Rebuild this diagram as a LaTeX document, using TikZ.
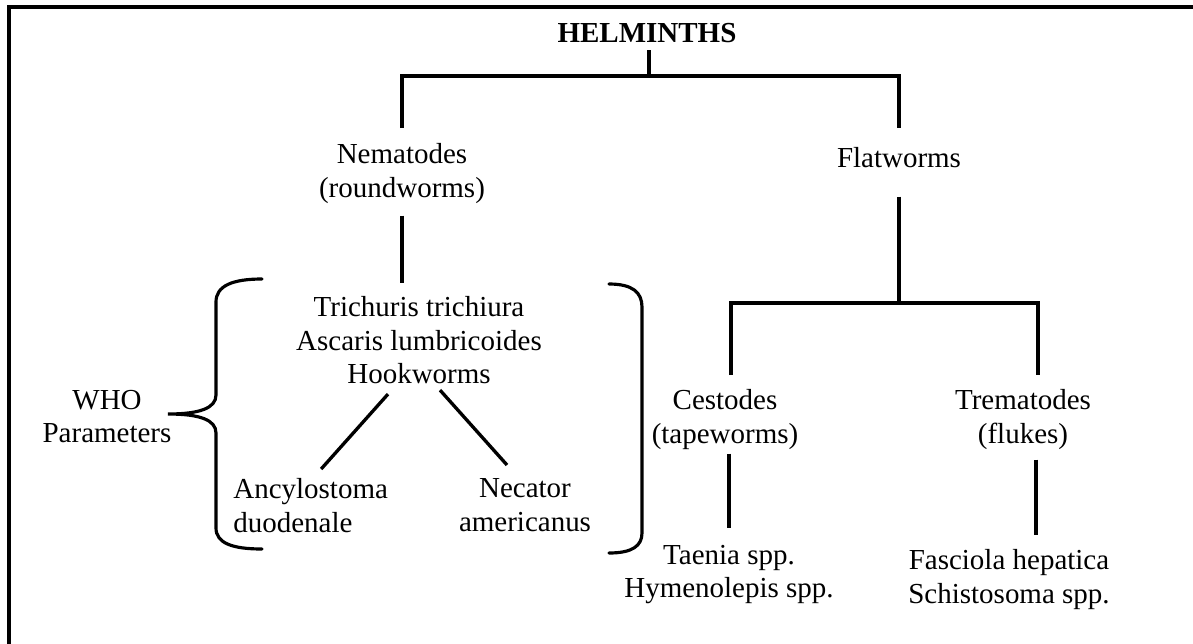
\documentclass[tikz,border=0pt]{standalone}
\usepackage{fontspec}
\setmainfont{Liberation Serif}
\usetikzlibrary{calc}
\tikzset{
  taxon/.style={
    inner sep=0pt, anchor=north, align=center,
    font=\fontsize{16.5}{19}\selectfont,
    execute at begin node=\strut, execute at end node=\strut
  },
  title-text/.style={
    inner sep=0pt, anchor=north, font=\fontsize{16.5}{19}\selectfont\bfseries,
    execute at begin node={\rule{0pt}{13.3pt}}
  },
  branch/.style={line width=1.9pt},
  brace-line/.style={line width=1.8pt, line cap=round},
  frame/.style={line width=1.8pt}
}

\begin{document}
\begin{tikzpicture}[x=0.02cm, y=-0.02cm]
  \useasboundingbox (0,0) rectangle (1193,643);
  \clip (0,0) rectangle (1193,643);
  % outer frame, cut off at the right and bottom
  \draw[frame] (9,700) |- (1250,7);

  \node[title-text] (helminths)   at (647,19)    {HELMINTHS};
  \node[taxon]      (nematodes)   at (402,143.5) {Nematodes\\(roundworms)};
  \node[taxon]      (flatworms)   at (899,143.5) {Flatworms};
  \node[taxon]      (worms)       at (419,296.5) {Trichuris trichiura\\Ascaris lumbricoides\\Hookworms};
  \node[taxon, anchor=north west, align=left]
                    (ancylostoma) at (233,478.5) {Ancylostoma\\duodenale};
  \node[taxon]      (necator)     at (525,478.5) {Necator\\americanus};
  \node[taxon]      (who)         at (107,389.5) {WHO\\Parameters};
  \node[taxon]      (cestodes)    at (725,389.5) {Cestodes\\(tapeworms)};
  \node[taxon]      (trematodes)  at (1023,389.5) {Trematodes\\(flukes)};
  \node[taxon]      (taenia)      at (729,544.5) {Taenia spp.\\Hymenolepis spp.};
  \node[taxon]      (fasciola)    at (1009,549.5) {Fasciola hepatica\\Schistosoma spp.};

  \coordinate (top-split) at (649,76);
  \coordinate (low-split) at (899,303);

  % tree
  \draw[branch, shorten <=4pt] (helminths.south -| top-split) -- (top-split);
  \draw[branch, shorten <=8.8pt, shorten >=8.8pt] (nematodes.north) |- (top-split) -| (flatworms.north);
  \draw[branch, shorten <=4.5pt, shorten >=7.7pt] (nematodes.south) -- (nematodes.south |- worms.north);
  \draw[branch] ($(worms.south)+(-31,0)$) -- ($(ancylostoma.north)+(10.5,-9.5)$);
  \draw[branch] ($(worms.south)+(21,-4)$) -- ($(necator.north)+(-18,-13.5)$);
  \draw[branch, shorten <=10.8pt] (flatworms.south) -- (low-split);
  \draw[branch, shorten <=8.2pt, shorten >=8.2pt]
    ([xshift=3.4pt]cestodes.north) |- (low-split) -| ([xshift=8.5pt]trematodes.north);
  \draw[branch, shorten >=9.4pt] (taenia.north |- cestodes.south) -- (taenia.north);
  \draw[branch, shorten <=3.4pt, shorten >=8.2pt]
    ([xshift=7.4pt]trematodes.south) -- ([xshift=7.4pt]trematodes.south |- fasciola.north);

  % braces round the WHO group
  \draw[brace-line] (262,279) .. controls (232,279) and (216,286) .. (216,302)
    -- (216,395) .. controls (216,408) and (200,414) .. (168,414)
    .. controls (200,414) and (216,420) .. (216,433)
    -- (216,528) .. controls (216,543) and (232,549) .. (262,549);
  \draw[brace-line] (609,284) .. controls (632,284) and (642,292) .. (642,307)
    -- (642,533) .. controls (642,546) and (632,553) .. (609,553);
\end{tikzpicture}
\end{document}
